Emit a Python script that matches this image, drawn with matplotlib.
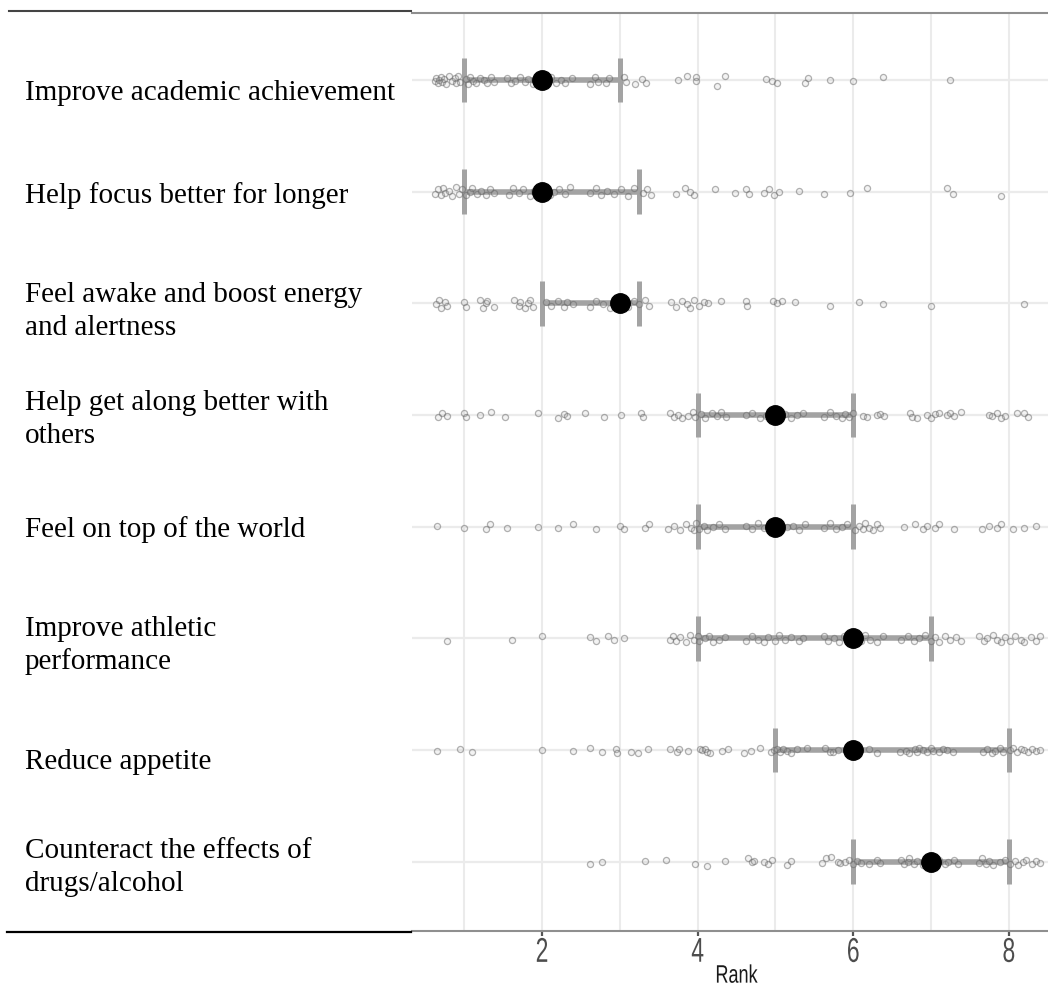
import matplotlib
matplotlib.use("Agg")
import matplotlib.pyplot as plt
import matplotlib.patheffects as pe
from matplotlib.transforms import Affine2D
from matplotlib.lines import Line2D

W, H = 1048, 992

labels = ["Improve academic achievement",
          "Help focus better for longer",
          "Feel awake and boost energy\nand alertness",
          "Help get along better with\nothers",
          "Feel on top of the world",
          "Improve athletic\nperformance",
          "Reduce appetite",
          "Counteract the effects of\ndrugs/alcohol"]
q1 = [1, 1, 2, 4, 4, 4, 5, 6]
median = [2, 2, 3, 5, 5, 6, 6, 7]
q3 = [3, 3.25, 3.25, 6, 6, 7, 8, 8]
xticks = [2, 4, 6, 8]

# jittered individual responses (rank, vertical jitter)
pts_academic = [(0.62, 0.01), (0.64, -0.02), (0.66, 0.03), (0.68, 0.00), (0.70, -0.03), (0.72, 0.02),
                (0.74, -0.01), (0.77, 0.04), (0.80, -0.04), (0.84, 0.01), (0.88, -0.02), (0.90, 0.03),
                (0.92, -0.04), (0.95, 0.02), (1.02, -0.01), (1.05, 0.04), (1.08, -0.03), (1.12, 0.01),
                (1.15, 0.03), (1.20, -0.02), (1.25, 0.00), (1.30, 0.03), (1.35, -0.03), (1.38, 0.02),
                (1.55, -0.02), (1.60, 0.03), (1.65, 0.01), (1.72, -0.03), (1.78, 0.02), (1.82, -0.01),
                (1.88, 0.04), (1.95, -0.04), (2.05, 0.02), (2.12, -0.03), (2.18, 0.03), (2.25, 0.00),
                (2.30, 0.03), (2.38, -0.02), (2.62, 0.04), (2.68, -0.03), (2.72, 0.02), (2.82, 0.03),
                (2.86, -0.02), (3.05, -0.03), (3.08, 0.02), (3.20, 0.04), (3.28, -0.01), (3.34, 0.03),
                (3.75, 0.00), (3.86, -0.04), (3.98, -0.03), (3.98, 0.01), (4.25, 0.05), (4.35, -0.04),
                (4.88, -0.01), (4.95, 0.01), (5.02, 0.03), (5.38, 0.03), (5.42, -0.02), (5.70, 0.00),
                (6.00, 0.01), (6.38, -0.03), (7.25, 0.00)]
pts_focus = [(0.63, 0.02), (0.66, -0.02), (0.70, 0.03), (0.73, -0.03), (0.76, 0.01), (0.80, -0.01),
             (0.85, 0.04), (0.90, -0.04), (0.93, 0.02), (0.97, -0.02), (1.03, 0.03), (1.07, 0.00),
             (1.10, -0.03), (1.16, 0.02), (1.22, -0.01), (1.28, 0.03), (1.33, -0.02), (1.38, 0.01),
             (1.58, 0.03), (1.63, -0.03), (1.70, 0.01), (1.76, -0.02), (1.84, 0.04), (1.90, -0.01),
             (1.97, 0.02), (2.06, -0.03), (2.10, 0.03), (2.16, 0.00), (2.22, -0.02), (2.30, 0.02),
             (2.36, -0.04), (2.62, 0.01), (2.70, -0.03), (2.76, 0.03), (2.84, -0.01), (2.92, 0.02),
             (3.02, -0.02), (3.10, 0.04), (3.18, -0.03), (3.30, 0.01), (3.35, -0.02), (3.40, 0.03),
             (3.72, 0.02), (3.84, -0.03), (3.90, 0.00), (3.95, 0.03), (4.22, -0.02), (4.48, 0.01),
             (4.62, -0.02), (4.66, 0.02), (4.85, 0.01), (4.92, -0.02), (4.98, 0.03), (5.04, 0.00),
             (5.30, -0.01), (5.62, 0.02), (5.96, 0.01), (6.18, -0.03), (7.20, -0.03), (7.28, 0.02),
             (7.90, 0.04)]
pts_awake = [(0.64, 0.01), (0.68, -0.03), (0.70, 0.04), (0.75, -0.01), (0.78, 0.02), (1.00, -0.01),
             (1.02, 0.03), (1.20, -0.03), (1.24, 0.04), (1.28, 0.00), (1.30, -0.02), (1.38, 0.03),
             (1.64, -0.03), (1.70, 0.02), (1.72, -0.01), (1.78, 0.04), (1.82, 0.00), (1.84, -0.03),
             (1.88, 0.03), (2.05, -0.01), (2.12, 0.02), (2.20, -0.02), (2.28, 0.03), (2.32, -0.01),
             (2.40, 0.01), (2.62, 0.03), (2.70, -0.02), (2.78, 0.01), (2.88, 0.04), (2.92, -0.03),
             (3.02, 0.02), (3.06, -0.01), (3.10, 0.03), (3.18, -0.02), (3.25, 0.01), (3.32, -0.03),
             (3.38, 0.02), (3.66, -0.01), (3.72, 0.03), (3.80, -0.02), (3.86, 0.01), (3.90, 0.04),
             (3.95, -0.03), (4.02, 0.02), (4.08, -0.01), (4.13, 0.00), (4.30, -0.02), (4.62, -0.02),
             (4.64, 0.02), (4.97, -0.02), (5.02, 0.00), (5.08, -0.02), (5.25, -0.01), (5.70, 0.02),
             (6.08, -0.01), (6.38, 0.01), (7.00, 0.02), (8.20, 0.01)]
pts_along = [(0.66, 0.02), (0.72, -0.02), (0.78, 0.01), (1.00, -0.02), (1.02, 0.02), (1.20, 0.00),
             (1.35, -0.03), (1.52, 0.02), (1.95, -0.02), (2.20, 0.03), (2.28, -0.01), (2.32, 0.01),
             (2.55, -0.02), (2.80, 0.02), (3.02, 0.00), (3.27, -0.02), (3.30, 0.02), (3.65, -0.02),
             (3.70, 0.02), (3.75, 0.00), (3.80, 0.03), (3.88, 0.01), (3.94, -0.03), (3.97, 0.02),
             (4.05, -0.01), (4.10, 0.03), (4.18, -0.02), (4.25, 0.01), (4.30, -0.03), (4.36, 0.02),
             (4.62, 0.00), (4.70, -0.02), (4.80, 0.03), (4.88, 0.01), (4.95, -0.03), (5.05, 0.02),
             (5.12, -0.01), (5.20, 0.03), (5.28, 0.00), (5.35, -0.02), (5.62, 0.02), (5.70, -0.03),
             (5.78, 0.01), (5.85, 0.03), (5.90, -0.01), (5.95, 0.02), (6.00, -0.02), (6.13, 0.01),
             (6.18, 0.02), (6.30, 0.00), (6.35, -0.01), (6.40, 0.01), (6.73, -0.02), (6.75, 0.02),
             (6.82, 0.03), (6.95, 0.00), (7.00, 0.03), (7.05, -0.01), (7.10, -0.02), (7.20, 0.00),
             (7.25, -0.02), (7.30, 0.01), (7.38, -0.03), (7.75, 0.00), (7.78, 0.01), (7.85, -0.02),
             (7.90, 0.03), (7.95, 0.01), (8.10, -0.02), (8.20, -0.02), (8.25, 0.02)]
pts_world = [(0.65, -0.01), (1.00, 0.01), (1.28, 0.02), (1.33, -0.02), (1.55, 0.01), (1.95, 0.00),
             (2.20, 0.01), (2.40, -0.02), (2.70, 0.02), (3.00, -0.01), (3.05, 0.02), (3.32, 0.01),
             (3.38, -0.02), (3.62, 0.02), (3.70, -0.01), (3.78, 0.03), (3.85, -0.02), (3.92, 0.01),
             (3.95, 0.03), (3.98, -0.03), (4.02, 0.02), (4.08, -0.01), (4.12, 0.03), (4.20, 0.00),
             (4.28, -0.02), (4.35, 0.02), (4.62, -0.01), (4.70, 0.02), (4.78, -0.03), (4.85, 0.01),
             (4.92, 0.03), (5.00, -0.02), (5.08, 0.02), (5.15, 0.00), (5.22, -0.01), (5.30, 0.03),
             (5.38, -0.02), (5.62, 0.01), (5.70, -0.03), (5.78, 0.02), (5.85, 0.00), (5.92, -0.02),
             (6.02, 0.03), (6.08, -0.01), (6.12, 0.02), (6.15, -0.03), (6.20, 0.01), (6.25, 0.03),
             (6.30, -0.02), (6.35, 0.01), (6.65, 0.00), (6.80, -0.02), (6.90, 0.02), (6.95, -0.01),
             (7.05, 0.01), (7.10, -0.02), (7.30, 0.02), (7.65, 0.02), (7.75, -0.01), (7.85, 0.01),
             (7.90, -0.02), (8.05, 0.02), (8.20, 0.01), (8.35, -0.01)]
pts_athletic = [(0.78, 0.02), (1.62, 0.01), (2.00, -0.02), (2.62, -0.01), (2.70, 0.02), (2.85, -0.02),
                (2.92, 0.01), (3.05, 0.00), (3.65, 0.01), (3.68, -0.02), (3.72, 0.02), (3.78, -0.01),
                (3.85, 0.03), (3.90, -0.03), (3.95, 0.01), (4.00, -0.02), (4.02, 0.02), (4.10, 0.00),
                (4.15, -0.02), (4.20, 0.03), (4.28, 0.01), (4.35, -0.01), (4.62, 0.02), (4.70, -0.02),
                (4.78, 0.01), (4.85, 0.03), (4.90, -0.01), (5.00, 0.02), (5.05, -0.03), (5.12, 0.01),
                (5.20, -0.01), (5.30, 0.02), (5.35, 0.00), (5.62, -0.02), (5.68, 0.02), (5.75, 0.00),
                (5.82, 0.03), (5.88, -0.02), (5.95, 0.01), (6.02, -0.01), (6.10, 0.02), (6.15, -0.03),
                (6.22, 0.01), (6.30, 0.03), (6.38, -0.02), (6.62, 0.01), (6.70, -0.02), (6.78, 0.02),
                (6.85, 0.00), (6.92, -0.03), (7.00, 0.02), (7.05, -0.01), (7.10, 0.03), (7.18, -0.02),
                (7.25, 0.01), (7.32, -0.01), (7.38, 0.02), (7.62, -0.02), (7.68, 0.02), (7.72, 0.00),
                (7.80, -0.03), (7.85, 0.01), (7.90, 0.03), (7.95, -0.01), (8.02, 0.02), (8.08, -0.02),
                (8.15, 0.01), (8.20, 0.03), (8.28, -0.01), (8.35, 0.02), (8.40, -0.02)]
pts_appetite = [(0.65, 0.01), (0.95, -0.01), (1.10, 0.02), (2.00, 0.00), (2.40, 0.01), (2.62, -0.02),
                (2.77, 0.02), (2.95, -0.01), (2.97, 0.03), (3.14, 0.02), (3.23, 0.03), (3.36, -0.01),
                (3.65, -0.01), (3.74, 0.02), (3.76, -0.01), (3.88, 0.01), (4.03, -0.01), (4.06, 0.00),
                (4.10, -0.01), (4.12, 0.02), (4.16, 0.03), (4.31, 0.01), (4.39, -0.01), (4.60, 0.03),
                (4.68, 0.01), (4.80, -0.02), (4.94, 0.02), (4.98, 0.00), (5.02, -0.01), (5.06, 0.02),
                (5.10, -0.01), (5.15, 0.01), (5.20, 0.03), (5.28, -0.01), (5.40, -0.02), (5.64, -0.02),
                (5.70, 0.02), (5.74, 0.02), (5.80, 0.00), (6.20, -0.01), (6.30, 0.03), (6.60, 0.02),
                (6.68, 0.01), (6.72, 0.03), (6.80, -0.01), (6.82, 0.02), (6.85, -0.02), (6.90, 0.00),
                (6.95, 0.02), (7.00, -0.02), (7.02, 0.01), (7.10, 0.02), (7.15, -0.01), (7.20, 0.00),
                (7.28, 0.02), (7.67, 0.02), (7.72, -0.01), (7.78, 0.03), (7.82, 0.01), (7.88, -0.02),
                (7.93, 0.02), (8.02, 0.00), (8.05, -0.02), (8.10, 0.02), (8.15, -0.01), (8.20, 0.00),
                (8.25, 0.02), (8.30, -0.01), (8.35, 0.01), (8.40, 0.00)]
pts_counteract = [(2.62, 0.02), (2.77, 0.00), (3.33, -0.01), (3.60, -0.02), (3.97, 0.02), (4.12, 0.04),
                  (4.35, -0.01), (4.65, -0.03), (4.70, 0.00), (4.73, -0.01), (4.85, 0.00), (4.90, 0.02),
                  (4.95, -0.02), (5.15, 0.03), (5.20, -0.01), (5.60, 0.01), (5.65, -0.03), (5.72, -0.04),
                  (5.80, 0.00), (5.83, 0.01), (5.90, 0.00), (5.95, -0.02), (6.00, 0.02), (6.05, -0.01),
                  (6.10, 0.01), (6.20, 0.02), (6.30, -0.02), (6.35, 0.01), (6.62, -0.02), (6.65, 0.02),
                  (6.70, 0.00), (6.72, -0.03), (6.78, 0.02), (6.82, -0.01), (6.90, 0.03), (6.95, -0.02),
                  (7.05, 0.01), (7.10, -0.02), (7.18, 0.02), (7.22, 0.00), (7.30, -0.02), (7.35, 0.02),
                  (7.62, 0.01), (7.65, -0.03), (7.70, 0.02), (7.75, -0.01), (7.80, 0.03), (7.88, 0.00),
                  (7.95, -0.02), (8.02, 0.02), (8.08, -0.01), (8.12, 0.03), (8.18, 0.00), (8.22, -0.02),
                  (8.30, 0.02), (8.35, -0.01), (8.40, 0.01)]
points = [pts_academic, pts_focus, pts_awake, pts_along,
          pts_world, pts_athletic, pts_appetite, pts_counteract]

# label baselines in pixels from top, per row (first line)
label_baselines = [100, 203, 302, 410, 537, 636, 769, 858]
LINE_PX = 33


class VStretch(pe.AbstractPathEffect):
    """Stretch a text path vertically around its ink top (keeps text as text)."""
    def __init__(self, sy):
        super().__init__()
        self.sy = sy

    def draw_path(self, renderer, gc, tpath, affine, rgbFace=None):
        ext = affine.transform_path(tpath).get_extents()
        y0 = ext.y1
        new = affine + Affine2D().translate(0, -y0).scale(1, self.sy).translate(0, y0)
        renderer.draw_path(gc, tpath, new, rgbFace)


fig = plt.figure(figsize=(W / 100, H / 100), dpi=100)
fig.patch.set_facecolor("white")

ax_left, ax_right = 412, 1061
ax_top, ax_bot = 13, 931
ax = fig.add_axes([ax_left / W, 1 - ax_bot / H, (ax_right - ax_left) / W, (ax_bot - ax_top) / H])
ax.set_xlim(0.33, 8.67)
ax.set_ylim(8.62, 0.40)

GRID = "#ebebeb"
ax.set_xticks(xticks)
ax.set_xticks([1, 3, 5, 7], minor=True)
ax.set_yticks(range(1, 9))
ax.tick_params(axis="y", length=0, labelleft=False)
ax.tick_params(axis="x", which="minor", length=0)
ax.tick_params(axis="x", which="major", length=3.5, width=1.6, color="#555555",
               labelsize=16.5, labelcolor="#4d4d4d", pad=0)
ax.grid(True, which="both", axis="x", color=GRID, lw=1.5)
ax.grid(True, which="major", axis="y", color=GRID, lw=1.6)
ax.set_axisbelow(True)
for s in ("left", "right"):
    ax.spines[s].set_visible(False)
for s in ("top", "bottom"):
    ax.spines[s].set_color("#8f8f8f")
    ax.spines[s].set_linewidth(1.5)

BAR = "#a3a3a3"
for i in range(len(labels)):
    row = i + 1
    ax.hlines(row, q1[i], q3[i], color=BAR, lw=4.0, zorder=3)
    ax.vlines([q1[i], q3[i]], row - 0.2, row + 0.2, color=BAR, lw=3.6, zorder=3)
    xs = [p[0] for p in points[i]]
    ys = [row + p[1] for p in points[i]]
    ax.plot(xs, ys, "o", ms=4.4, mew=0.9, mec=(0.4, 0.4, 0.4, 0.5),
            mfc=(0.7, 0.7, 0.7, 0.15), zorder=4, clip_on=False)
    ax.plot([median[i]], [row], "o", ms=14, color="black", zorder=5)

for lab in ax.get_xticklabels():
    lab.set_fontfamily("Liberation Sans")
ax.set_xlabel("Rank", fontsize=13, color="#1a1a1a", family="Liberation Sans", labelpad=4)
for lab in ax.get_xticklabels():
    lab.set_path_effects([VStretch(1.5)])
ax.xaxis.label.set_path_effects([VStretch(1.4)])

# left label column with rules
fig.add_artist(Line2D([9 / W, 411 / W], [1 - 10.5 / H, 1 - 10.5 / H], color="#444444", lw=1.5))
fig.add_artist(Line2D([7 / W, 411 / W], [1 - 932 / H, 1 - 932 / H], color="black", lw=1.6))

for i, lab in enumerate(labels):
    for j, line in enumerate(lab.split("\n")):
        fig.text(25 / W, 1 - (label_baselines[i] + j * LINE_PX) / H, line,
                 fontsize=21, family="Liberation Serif", color="black",
                 ha="left", va="baseline")

fig.savefig("out.png", dpi=100, facecolor="white")
